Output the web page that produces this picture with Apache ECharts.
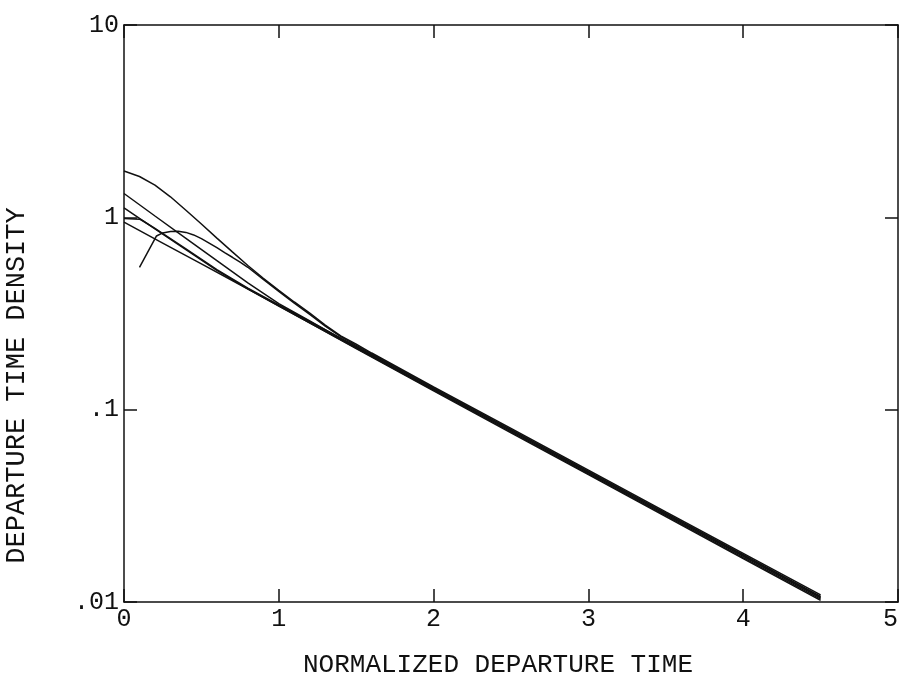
<!DOCTYPE html>
<html>
<head>
<meta charset="utf-8">
<script src="https://cdn.jsdelivr.net/npm/echarts@6/dist/echarts.min.js"></script>
<style>
  html, body { margin: 0; padding: 0; background: #fff; }
  #chart { width: 902px; height: 682px; }
</style>
</head>
<body>
<div id="chart"></div>
<script>
// x ticks and y decade labels
const xTicks = [0, 1, 2, 3, 4, 5]
const yTickLabels = { '-2': '.01', '-1': '.1', '0': '1', '1': '10' }

// curves: [normalized time, density]
const curveA = [[0, 1.74], [0.1, 1.63], [0.2, 1.472], [0.3, 1.279], [0.4, 1.089], [0.5, 0.923], [0.6, 0.78], [0.7, 0.661], [0.8, 0.562], [0.9, 0.482], [1.0, 0.417], [1.1, 0.363], [1.2, 0.318], [1.3, 0.275], [1.4, 0.242], [1.5, 0.219], [1.6, 0.197], [2, 0.1315], [2.5, 0.08], [3, 0.0485], [3.5, 0.0294], [4, 0.0179], [4.5, 0.0109]]
const curveB = [[0, 1.33], [0.2, 1.016], [0.4, 0.778], [0.6, 0.595], [0.8, 0.456], [1.0, 0.356], [1.2, 0.289], [1.5, 0.211], [2, 0.128], [2.5, 0.0776], [3, 0.047], [3.5, 0.0285], [4, 0.0173], [4.5, 0.0105]]
const curveC = [[0, 1.12], [0.2, 0.87], [0.4, 0.68], [0.6, 0.53], [0.8, 0.425], [1.0, 0.346], [1.5, 0.209], [2, 0.1265], [2.5, 0.0766], [3, 0.0464], [3.5, 0.0281], [4, 0.017], [4.5, 0.01035]]
const curveD = [[0, 0.985], [0.1, 0.978], [0.12, 0.96], [0.2, 0.875], [0.4, 0.685], [0.6, 0.535], [0.8, 0.428], [1.0, 0.35], [1.5, 0.213], [2, 0.1298], [2.5, 0.0788], [3, 0.0477], [3.5, 0.029], [4, 0.0176], [4.5, 0.0107]]
const curveE = [[0, 0.945], [0.25, 0.735], [0.5, 0.573], [0.75, 0.446], [1.0, 0.347], [1.5, 0.208], [2, 0.1252], [2.5, 0.0758], [3, 0.0459], [3.5, 0.0278], [4, 0.0168], [4.5, 0.0102]]
const curveF = [[0.1, 0.55], [0.21, 0.8], [0.25, 0.83], [0.3, 0.845], [0.35, 0.847], [0.4, 0.835], [0.45, 0.81], [0.5, 0.775], [0.55, 0.735], [0.6, 0.695], [0.65, 0.655], [0.7, 0.62], [0.75, 0.585], [0.8, 0.55], [0.9, 0.476], [1.0, 0.412], [1.1, 0.358], [1.2, 0.313], [1.3, 0.272], [1.4, 0.24], [1.5, 0.216], [2, 0.1295], [2.5, 0.0785], [3, 0.0476], [3.5, 0.0289], [4, 0.0175], [4.5, 0.0106]]

const font = "'Liberation Mono', 'DejaVu Sans Mono', monospace"
const ink = '#111'

const myChart = echarts.init(document.getElementById('chart'))

const axisLine = { show: true, onZero: false, lineStyle: { color: ink, width: 1.5 } }
const axisTick = { show: true, inside: true, length: 13, lineStyle: { color: ink, width: 1.5 } }

function makeLine (data) {
  return {
    type: 'line',
    data: data,
    showSymbol: false,
    lineStyle: { color: ink, width: 1.5 },
    xAxisIndex: 0,
    yAxisIndex: 0
  }
}

const option = {
  animation: false,
  backgroundColor: '#fff',
  grid: { left: 124, right: 4, top: 25, bottom: 80, outerBoundsMode: 'none' },
  xAxis: [
    {
      type: 'value',
      position: 'bottom',
      min: xTicks[0],
      max: xTicks[xTicks.length - 1],
      interval: 1,
      axisLine: axisLine,
      axisTick: axisTick,
      splitLine: { show: false },
      axisLabel: { fontFamily: font, fontSize: 25, color: ink, margin: 5, alignMaxLabel: 'right' },
      name: 'NORMALIZED DEPARTURE TIME',
      nameLocation: 'middle',
      nameGap: 50,
      nameTextStyle: { fontFamily: font, fontSize: 26, color: ink, padding: [0, 26, 0, 0] }
    },
    {
      type: 'value',
      position: 'top',
      min: xTicks[0],
      max: xTicks[xTicks.length - 1],
      interval: 1,
      axisLine: axisLine,
      axisTick: axisTick,
      splitLine: { show: false },
      axisLabel: { show: false }
    }
  ],
  yAxis: [
    {
      type: 'log',
      logBase: 10,
      position: 'left',
      min: 0.01,
      max: 10,
      axisLine: axisLine,
      axisTick: axisTick,
      splitLine: { show: false },
      axisLabel: {
        fontFamily: font,
        fontSize: 25,
        color: ink,
        margin: 5,
        formatter: function (v) {
          return yTickLabels[String(Math.round(Math.log10(v)))] || ''
        }
      },
      name: 'DEPARTURE TIME DENSITY',
      nameLocation: 'middle',
      nameRotate: 90,
      nameGap: 94,
      nameTextStyle: { fontFamily: font, fontSize: 27, color: ink, padding: [0, 144, 0, 0] }
    },
    {
      type: 'log',
      logBase: 10,
      position: 'right',
      min: 0.01,
      max: 10,
      axisLine: axisLine,
      axisTick: axisTick,
      splitLine: { show: false },
      axisLabel: { show: false }
    }
  ],
  series: [
    makeLine(curveA),
    makeLine(curveB),
    makeLine(curveC),
    makeLine(curveD),
    makeLine(curveE),
    makeLine(curveF)
  ]
}

myChart.setOption(option, true)
</script>
</body>
</html>
